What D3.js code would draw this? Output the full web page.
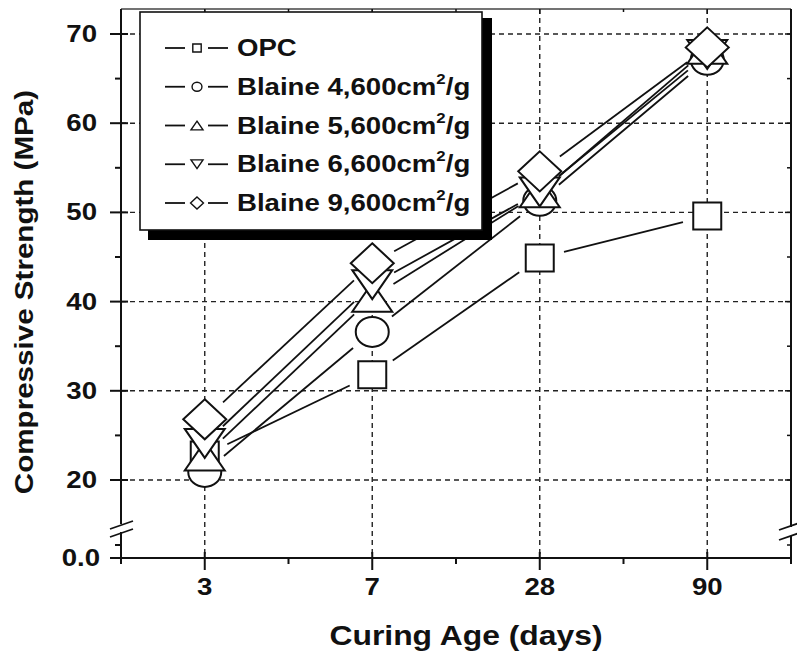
<!DOCTYPE html>
<html><head><meta charset="utf-8">
<script src="https://cdn.jsdelivr.net/npm/d3@7"></script>
<style>html,body{margin:0;padding:0;background:#fff;}svg{display:block;}</style>
</head><body>
<script>
const categories = ["3", "7", "28", "90"];
const opc   = [22.8, 31.8, 44.9, 49.6];
const b4600 = [20.9, 36.6, 51.3, 67.1];
const b5600 = [22.7, 40.5, 52.2, 68.3];
const b6600 = [24.1, 41.9, 52.3, 67.7];
const b9600 = [26.8, 44.3, 54.6, 68.5];
const seriesNames = ["OPC", "Blaine 4,600", "Blaine 5,600", "Blaine 6,600", "Blaine 9,600"];
const seriesUnit = ["", "cm", "cm", "cm", "cm"];
const seriesShapes = ["square", "circle", "up", "down", "diamond"];
const yTicks = [20, 30, 40, 50, 60, 70];
const yMinor = [25, 35, 45, 55, 65];
const yLowTicks = [0];
const yLowLabels = ["0.0"];
const yLowMinor = [1];
const xTitle = "Curing Age (days)";
const yTitle = "Compressive Strength (MPa)";

const series = [opc, b4600, b5600, b6600, b9600];

const W = 797, H = 655;
const L = 121, R = 791, T = 9, B = 558;
const FONT = "'Liberation Sans', Arial, Helvetica, sans-serif";
const SX = 1.2;

const svg = d3.select("body").append("svg").attr("width", W).attr("height", H);

const x = d3.scaleLinear().domain([-0.5, 3.5]).range([L, R]);
const y = d3.scaleLinear().domain([20, 70]).range([480, 34]);
const yLow = d3.scaleLinear().domain([0, 2]).range([B, 532]);
const breakY = 528;

// grid
const grid = svg.append("g").attr("stroke", "#222").attr("stroke-width", 1.4).attr("stroke-dasharray", "5,4");
grid.selectAll("line.h").data(yTicks).enter().append("line")
  .attr("x1", L).attr("x2", R).attr("y1", d => y(d)).attr("y2", d => y(d));
grid.selectAll("line.v").data(categories).enter().append("line")
  .attr("x1", (d, i) => x(i)).attr("x2", (d, i) => x(i)).attr("y1", T).attr("y2", B);

// axes frame
const ax = svg.append("g").attr("stroke", "#111").attr("fill", "none");
ax.append("line").attr("x1", L).attr("x2", R).attr("y1", B).attr("y2", B).attr("stroke-width", 2);
ax.append("line").attr("x1", L).attr("x2", R).attr("y1", T).attr("y2", T).attr("stroke-width", 1.5).attr("stroke", "#444");
ax.append("line").attr("x1", L).attr("x2", L).attr("y1", T).attr("y2", breakY - 4).attr("stroke-width", 2);
ax.append("line").attr("x1", L).attr("x2", L).attr("y1", breakY + 4).attr("y2", B).attr("stroke-width", 2);
ax.append("line").attr("x1", R).attr("x2", R).attr("y1", T).attr("y2", breakY - 1).attr("stroke-width", 2);
ax.append("line").attr("x1", R).attr("x2", R).attr("y1", breakY + 8).attr("y2", B + 6).attr("stroke-width", 2);
// break marks
[[L - 11, breakY + 1, L + 12, breakY - 7], [L - 11, breakY + 9, L + 12, breakY + 1],
 [R - 12, breakY + 2, R + 8, breakY - 5], [R - 12, breakY + 12, R + 8, breakY + 5]].forEach(s => {
  ax.append("line").attr("x1", s[0]).attr("y1", s[1]).attr("x2", s[2]).attr("y2", s[3]).attr("stroke-width", 1.8);
});

// ticks left
yTicks.forEach(v => {
  ax.append("line").attr("x1", L - 11).attr("x2", L + 7).attr("y1", y(v)).attr("y2", y(v)).attr("stroke-width", 2);
  ax.append("line").attr("x1", R - 6).attr("x2", R).attr("y1", y(v)).attr("y2", y(v)).attr("stroke-width", 1.5);
});
yMinor.forEach(v => {
  ax.append("line").attr("x1", L - 6).attr("x2", L).attr("y1", y(v)).attr("y2", y(v)).attr("stroke-width", 2);
  ax.append("line").attr("x1", R - 4).attr("x2", R).attr("y1", y(v)).attr("y2", y(v)).attr("stroke-width", 1.5);
});
yLowTicks.forEach(v => {
  ax.append("line").attr("x1", L - 11).attr("x2", L).attr("y1", yLow(v)).attr("y2", yLow(v)).attr("stroke-width", 2);
});
yLowMinor.forEach(v => {
  ax.append("line").attr("x1", L - 6).attr("x2", L).attr("y1", yLow(v)).attr("y2", yLow(v)).attr("stroke-width", 2);
  ax.append("line").attr("x1", R - 4).attr("x2", R).attr("y1", yLow(v)).attr("y2", yLow(v)).attr("stroke-width", 1.5);
});
// ticks bottom/top
categories.forEach((c, i) => {
  ax.append("line").attr("x1", x(i)).attr("x2", x(i)).attr("y1", B - 6).attr("y2", B + 12).attr("stroke-width", 2);
  ax.append("line").attr("x1", x(i)).attr("x2", x(i)).attr("y1", T).attr("y2", T + 5).attr("stroke-width", 1.5);
});
[-0.5, 0.5, 1.5, 2.5, 3.5].forEach(v => {
  ax.append("line").attr("x1", x(v)).attr("x2", x(v)).attr("y1", B).attr("y2", B + 6).attr("stroke-width", 2);
  ax.append("line").attr("x1", x(v)).attr("x2", x(v)).attr("y1", T).attr("y2", T + 3).attr("stroke-width", 1.5);
});

function txt(g, tx, ty, s, size, anchor, sx) {
  return g.append("text").attr("transform", `translate(${tx},${ty}) scale(${sx || SX},1)`)
    .attr("text-anchor", anchor).attr("font-family", FONT).attr("font-weight", "bold")
    .attr("font-size", size).attr("fill", "#111").text(s);
}
const labels = svg.append("g");
yTicks.forEach(v => txt(labels, 97, y(v) + 8, String(v), 23, "end"));
yLowTicks.forEach((v, i) => txt(labels, 100, yLow(v) + 8, yLowLabels[i], 23, "end"));
categories.forEach((c, i) => txt(labels, x(i), 595, c, 23, "middle"));
txt(labels, 466, 645, xTitle, 27, "middle", 1.18);
labels.append("text").attr("transform", "translate(33,292) rotate(-90) scale(1.16,1)")
  .attr("text-anchor", "middle").attr("font-family", FONT).attr("font-weight", "bold")
  .attr("font-size", 25.5).attr("fill", "#111").text(yTitle);

// shapes
function shapePath(kind, s) {
  if (kind === "square") { const w = 14 * s, h = 13.5 * s; return `M${-w},${-h}H${w}V${h}H${-w}Z`; }
  if (kind === "circle") { const rx = 16.5 * s, ry = 15 * s; return `M${-rx},0A${rx},${ry} 0 1,0 ${rx},0A${rx},${ry} 0 1,0 ${-rx},0Z`; }
  if (kind === "up") { const w = 20 * s, h = 14.5 * s; return `M0,${-h}L${w},${h}L${-w},${h}Z`; }
  if (kind === "down") { const w = 20 * s, h = 14.5 * s; return `M0,${h}L${w},${-h}L${-w},${-h}Z`; }
  const w = 21.5 * s, h = 20 * s; return `M0,${-h}L${w},0L0,${h}L${-w},0Z`;
}

// lines with gaps
const gap = 25;
const lines = svg.append("g").attr("stroke", "#111").attr("stroke-width", 1.8);
series.forEach(vals => {
  for (let i = 0; i < vals.length - 1; i++) {
    const x0 = x(i), y0 = y(vals[i]), x1 = x(i + 1), y1 = y(vals[i + 1]);
    const len = Math.hypot(x1 - x0, y1 - y0);
    const ux = (x1 - x0) / len, uy = (y1 - y0) / len;
    lines.append("line").attr("x1", x0 + ux * gap).attr("y1", y0 + uy * gap)
      .attr("x2", x1 - ux * gap).attr("y2", y1 - uy * gap);
  }
});
const marks = svg.append("g");
series.forEach((vals, si) => {
  marks.selectAll(null).data(vals).enter().append("path")
    .attr("d", shapePath(seriesShapes[si], 1))
    .attr("transform", (d, i) => `translate(${x(i)},${y(d)})`)
    .attr("fill", "#fff").attr("stroke", "#111").attr("stroke-width", 2);
});

// legend
const lg = svg.append("g");
lg.append("rect").attr("x", 148).attr("y", 18).attr("width", 344).attr("height", 222).attr("fill", "#000");
lg.append("rect").attr("x", 140).attr("y", 12).attr("width", 342).attr("height", 218)
  .attr("fill", "#fff").attr("stroke", "#111").attr("stroke-width", 1.6);
const rowY = d3.scaleLinear().domain([0, 4]).range([48, 203]);
seriesNames.forEach((name, i) => {
  const cy = rowY(i);
  lg.append("line").attr("x1", 165).attr("x2", 185).attr("y1", cy).attr("y2", cy).attr("stroke", "#111").attr("stroke-width", 1.8);
  lg.append("line").attr("x1", 208).attr("x2", 228).attr("y1", cy).attr("y2", cy).attr("stroke", "#111").attr("stroke-width", 1.8);
  lg.append("path").attr("d", shapePath(seriesShapes[i], 0.3)).attr("transform", `translate(197,${cy})`)
    .attr("fill", "#fff").attr("stroke", "#111").attr("stroke-width", 1.4);
  const t = txt(lg, 237, cy + 8, name + seriesUnit[i], 23, "start");
  if (seriesUnit[i]) {
    t.append("tspan").attr("font-size", 14).attr("dy", -11).text("2");
    t.append("tspan").attr("dy", 11).text("/g");
  }
});
</script>
</body></html>
